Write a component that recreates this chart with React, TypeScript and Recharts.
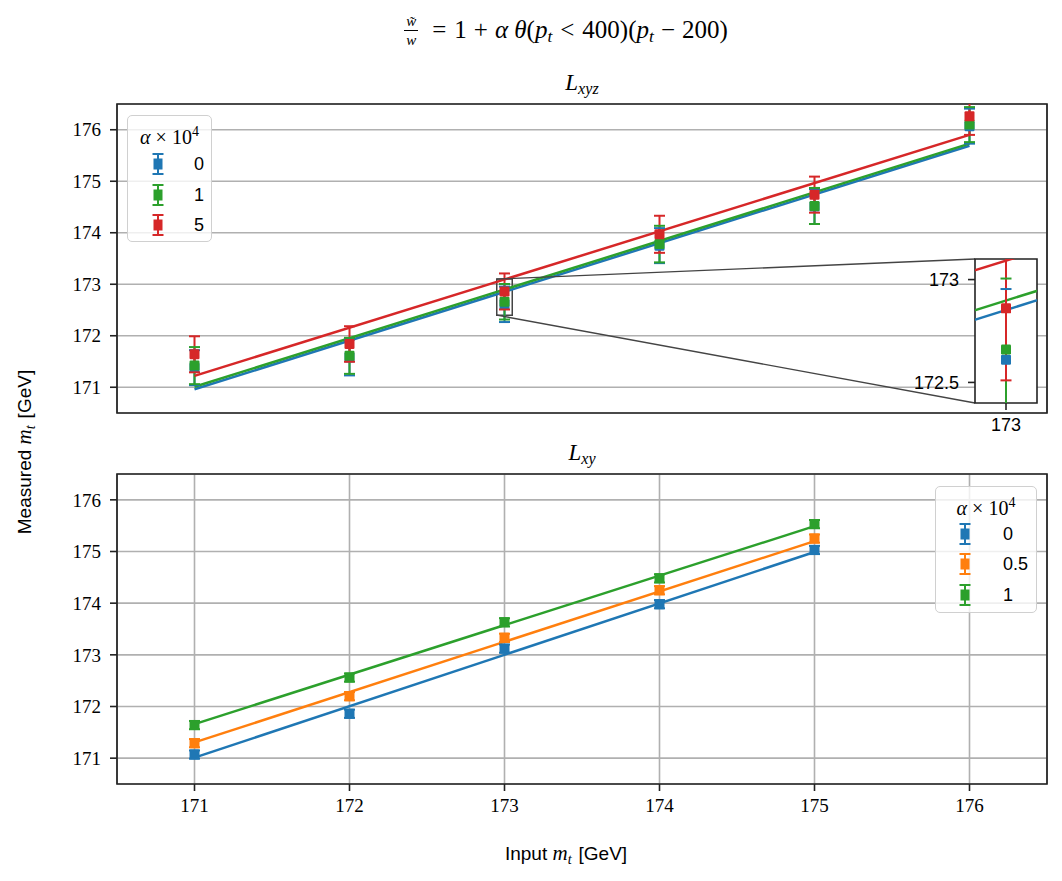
import React from 'react';
import {
  ComposedChart,
  Scatter,
  Line,
  XAxis,
  YAxis,
  CartesianGrid,
  ReferenceArea,
  ReferenceLine,
} from 'recharts';

// ---------------- data ----------------
const xyzInputMass = [171, 172, 173, 174, 175, 176];
const xyzAlpha0 = [171.38, 171.58, 172.61, 173.75, 174.51, 176.07];
const xyzAlpha0Err = [0.34, 0.35, 0.344, 0.34, 0.34, 0.34];
const xyzAlpha1 = [171.42, 171.61, 172.66, 173.78, 174.52, 176.1];
const xyzAlpha1Err = [0.36, 0.35, 0.345, 0.355, 0.35, 0.34];
const xyzAlpha5 = [171.64, 171.84, 172.86, 173.97, 174.74, 176.26];
const xyzAlpha5Err = [0.35, 0.345, 0.35, 0.36, 0.35, 0.36];
const xyzFitX = [171, 176];
const xyzFit0 = [170.96, 175.69];
const xyzFit1 = [171.01, 175.73];
const xyzFit5 = [171.22, 175.9];
const xyzLegendLabels = ['0', '1', '5'];

const xyInputMass = [171, 172, 173, 174, 175];
const xyAlpha0 = [171.07, 171.86, 173.12, 173.98, 175.03];
const xyAlpha0Err = [0.08, 0.08, 0.08, 0.08, 0.08];
const xyAlpha05 = [171.29, 172.2, 173.33, 174.25, 175.25];
const xyAlpha05Err = [0.08, 0.08, 0.08, 0.08, 0.08];
const xyAlpha1 = [171.64, 172.56, 173.63, 174.48, 175.53];
const xyAlpha1Err = [0.08, 0.08, 0.08, 0.08, 0.08];
const xyFitX = [171, 175];
const xyFit0 = [171.01, 174.99];
const xyFit05 = [171.305, 175.2];
const xyFit1 = [171.66, 175.49];
const xyLegendLabels = ['0', '0.5', '1'];

const axisTicks = [171, 172, 173, 174, 175, 176];
const axisDomain: [number, number] = [170.5, 176.5];
const insetXDomain: [number, number] = [172.95, 173.05];
const insetYDomain: [number, number] = [172.4, 173.1];
const insetXTicks = [173];
const insetYTicks = [172.5, 173];

// ---------------- styles ----------------
const BLUE = '#1f77b4';
const ORANGE = '#ff7f0e';
const GREEN = '#2ca02c';
const RED = '#d62728';
const GRID = '#b0b0b0';
const SPINE = '#222';
const SERIF = '"Liberation Serif", "DejaVu Serif", serif';
const SANS = '"Liberation Sans", "DejaVu Sans", sans-serif';

// plot areas (pixels on page)
const TOP = { left: 117, top: 104, width: 930, height: 309 };
const BOT = { left: 117, top: 474, width: 930, height: 310 };
const INSET = { left: 975, top: 259, width: 62, height: 144 };

const topXData = (px: number) =>
  axisDomain[0] + ((px - TOP.left) / TOP.width) * (axisDomain[1] - axisDomain[0]);
const topYData = (py: number) =>
  axisDomain[1] - ((py - TOP.top) / TOP.height) * (axisDomain[1] - axisDomain[0]);

type Pt = { x: number; y: number | null; e: number };

const pts = (xs: number[], ys: number[], es?: number[]): Pt[] =>
  xs.map((x, i) => ({ x, y: ys[i], e: es ? es[i] : 0 }));

// error bar segments: low, high, break
const errSegments = (points: Pt[]): Pt[] =>
  points.flatMap((p) => [
    { x: p.x, y: (p.y as number) - p.e, e: 0 },
    { x: p.x, y: (p.y as number) + p.e, e: 0 },
    { x: p.x, y: null, e: 0 },
  ]);

const squareShape = (color: string, size: number) => (props: any) => {
  const { cx, cy } = props;
  if (cx == null || cy == null) return <g />;
  return (
    <rect
      x={cx - size / 2}
      y={cy - size / 2}
      width={size}
      height={size}
      rx={1.2}
      fill={color}
    />
  );
};

const capDot = (color: string) => (props: any) => {
  const { cx, cy, index } = props;
  if (cx == null || cy == null || Number.isNaN(cy)) return <g key={`cap-${index}`} />;
  return (
    <line
      key={`cap-${index}`}
      x1={cx - 5.5}
      x2={cx + 5.5}
      y1={cy}
      y2={cy}
      stroke={color}
      strokeWidth={2}
    />
  );
};

type Series = {
  name: string;
  color: string;
  points: Pt[];
  fit: Pt[];
};

const xyzSeries: Series[] = [
  { name: xyzLegendLabels[0], color: BLUE, points: pts(xyzInputMass, xyzAlpha0, xyzAlpha0Err), fit: pts(xyzFitX, xyzFit0) },
  { name: xyzLegendLabels[1], color: GREEN, points: pts(xyzInputMass, xyzAlpha1, xyzAlpha1Err), fit: pts(xyzFitX, xyzFit1) },
  { name: xyzLegendLabels[2], color: RED, points: pts(xyzInputMass, xyzAlpha5, xyzAlpha5Err), fit: pts(xyzFitX, xyzFit5) },
];

const xySeries: Series[] = [
  { name: xyLegendLabels[0], color: BLUE, points: pts(xyInputMass, xyAlpha0, xyAlpha0Err), fit: pts(xyFitX, xyFit0) },
  { name: xyLegendLabels[1], color: ORANGE, points: pts(xyInputMass, xyAlpha05, xyAlpha05Err), fit: pts(xyFitX, xyFit05) },
  { name: xyLegendLabels[2], color: GREEN, points: pts(xyInputMass, xyAlpha1, xyAlpha1Err), fit: pts(xyFitX, xyFit1) },
];

const renderSeries = (series: Series[], prefix: string) =>
  series.flatMap((s, i) => [
    <Line
      key={`${prefix}-e-${i}`}
      data={errSegments(s.points)}
      dataKey="y"
      type="linear"
      stroke={s.color}
      strokeWidth={2}
      dot={capDot(s.color)}
      activeDot={false}
      connectNulls={false}
      isAnimationActive={false}
    />,
    <Scatter
      key={`${prefix}-s-${i}`}
      data={s.points}
      dataKey="y"
      shape={squareShape(s.color, 10)}
      isAnimationActive={false}
    />,
    <Line
      key={`${prefix}-l-${i}`}
      data={s.fit}
      dataKey="y"
      type="linear"
      stroke={s.color}
      strokeWidth={2.5}
      dot={false}
      activeDot={false}
      isAnimationActive={false}
    />,
  ]);

const yTickStyle = { fontFamily: SERIF, fontSize: 19, fill: '#000' };

const Sub = ({ children }: { children: React.ReactNode }) => (
  <span style={{ fontSize: '0.7em', verticalAlign: '-0.25em', fontStyle: 'italic' }}>{children}</span>
);

const LegendBox = ({
  series,
  left,
  top,
  width,
  rowYs,
  markerX,
  labelX,
}: {
  series: Series[];
  left: number;
  top: number;
  width: number;
  rowYs: number[];
  markerX: number;
  labelX: number;
}) => (
  <div
    style={{
      position: 'absolute',
      left,
      top,
      width,
      height: 127,
      boxSizing: 'border-box',
      background: 'rgba(255,255,255,0.8)',
      border: '1.5px solid #d0d0d0',
      borderRadius: 5,
    }}
  >
    <div
      style={{
        position: 'absolute',
        left: 0,
        width: '100%',
        top: 9,
        textAlign: 'center',
        fontFamily: SERIF,
        fontSize: 20,
        lineHeight: '24px',
      }}
    >
      <i>α</i> × 10<sup style={{ fontSize: '0.7em', verticalAlign: '0.6em', lineHeight: 0 }}>4</sup>
    </div>
    {series.map((s, i) => (
      <React.Fragment key={i}>
        <svg
          width={20}
          height={24}
          style={{ position: 'absolute', left: markerX - 10, top: rowYs[i] - 12 }}
        >
          <line x1={10} x2={10} y1={2} y2={22} stroke={s.color} strokeWidth={2} />
          <line x1={4.5} x2={15.5} y1={2} y2={2} stroke={s.color} strokeWidth={2} />
          <line x1={4.5} x2={15.5} y1={22} y2={22} stroke={s.color} strokeWidth={2} />
          <rect x={5.5} y={6.5} width={9} height={11} fill={s.color} />
        </svg>
        <div
          style={{
            position: 'absolute',
            left: labelX,
            top: rowYs[i] - 12,
            fontFamily: SANS,
            fontSize: 18,
            lineHeight: '24px',
          }}
        >
          {s.name}
        </div>
      </React.Fragment>
    ))}
  </div>
);

const INSET_YAXIS_W = 60;
const INSET_XAXIS_H = 35;

export default function App() {
  const insetCorners = {
    x0: topXData(INSET.left),
    y1: topYData(INSET.top),
    y0: topYData(INSET.top + INSET.height),
  };

  return (
    <div
      style={{
        position: 'absolute',
        left: 0,
        top: 0,
        width: 1062,
        height: 881,
        background: '#fff',
        overflow: 'hidden',
      }}
    >
      {/* main title */}
      <div
        style={{
          position: 'absolute',
          left: 266,
          width: 600,
          top: 11,
          textAlign: 'center',
          fontFamily: SERIF,
          fontSize: 25,
          lineHeight: '38px',
          whiteSpace: 'nowrap',
        }}
      >
        <span
          style={{
            display: 'inline-flex',
            flexDirection: 'column',
            alignItems: 'center',
            verticalAlign: 'middle',
            fontSize: 15,
            fontStyle: 'italic',
            marginRight: 6,
            position: 'relative',
            top: -2,
          }}
        >
          <span style={{ display: 'block', lineHeight: '18px', height: 18 }}>w̃</span>
          <span
            style={{
              display: 'block',
              borderTop: '1.2px solid #000',
              width: 14,
              textAlign: 'center',
              lineHeight: '18px',
              height: 18,
            }}
          >
            w
          </span>
        </span>
        <span style={{ margin: '0 8px' }}>=</span>1<span style={{ margin: '0 7px' }}>+</span>
        <i>α</i> <i>θ</i>(<i>p</i>
        <Sub>t</Sub>
        <span style={{ margin: '0 8px' }}>&lt;</span>400)(<i>p</i>
        <Sub>t</Sub>
        <span style={{ margin: '0 7px' }}>−</span>200)
      </div>

      {/* subplot titles */}
      <div
        style={{
          position: 'absolute',
          left: TOP.left,
          width: TOP.width,
          top: 70,
          textAlign: 'center',
          fontFamily: SERIF,
          fontSize: 23,
          lineHeight: '26px',
        }}
      >
        <i>L</i>
        <Sub>xyz</Sub>
      </div>
      <div
        style={{
          position: 'absolute',
          left: BOT.left,
          width: BOT.width,
          top: 440,
          textAlign: 'center',
          fontFamily: SERIF,
          fontSize: 23,
          lineHeight: '26px',
        }}
      >
        <i>L</i>
        <Sub>xy</Sub>
      </div>

      {/* y label */}
      <div
        style={{
          position: 'absolute',
          left: 24 - 150,
          width: 300,
          top: 452 - 13,
          height: 26,
          lineHeight: '26px',
          textAlign: 'center',
          transform: 'rotate(-90deg)',
          fontFamily: SANS,
          fontSize: 19,
          whiteSpace: 'nowrap',
        }}
      >
        Measured <i style={{ fontFamily: SERIF, fontSize: 21 }}>m</i>
        <span style={{ fontFamily: SERIF, fontSize: 14, fontStyle: 'italic', verticalAlign: '-0.25em' }}>t</span>
        <span style={{ marginLeft: 7 }}>[GeV]</span>
      </div>

      {/* x label */}
      <div
        style={{
          position: 'absolute',
          left: 566 - 150,
          width: 300,
          top: 840,
          height: 26,
          lineHeight: '26px',
          textAlign: 'center',
          fontFamily: SANS,
          fontSize: 19,
          whiteSpace: 'nowrap',
        }}
      >
        Input <i style={{ fontFamily: SERIF, fontSize: 21 }}>m</i>
        <span style={{ fontFamily: SERIF, fontSize: 14, fontStyle: 'italic', verticalAlign: '-0.25em' }}>t</span>
        <span style={{ marginLeft: 7 }}>[GeV]</span>
      </div>

      {/* top panel */}
      <div style={{ position: 'absolute', left: 0, top: 0 }}>
        <ComposedChart
          width={1062}
          height={440}
          margin={{ top: TOP.top, right: 1062 - TOP.left - TOP.width, bottom: 440 - TOP.top - TOP.height - 20, left: TOP.left - 55 }}
        >
          <CartesianGrid stroke={GRID} strokeWidth={1.6} />
          <XAxis
            type="number"
            dataKey="x"
            domain={axisDomain}
            ticks={axisTicks}
            allowDataOverflow
            tick={false}
            tickLine={false}
            axisLine={false}
            height={20}
          />
          <YAxis
            type="number"
            dataKey="y"
            domain={axisDomain}
            ticks={axisTicks}
            allowDataOverflow
            width={55}
            tick={yTickStyle}
            tickSize={7}
            tickMargin={9}
            tickLine={{ stroke: SPINE, strokeWidth: 1.6 }}
            axisLine={false}
          />
          {renderSeries(xyzSeries, 'xyz')}
          <ReferenceArea
            x1={insetXDomain[0]}
            x2={insetXDomain[1]}
            y1={insetYDomain[0]}
            y2={insetYDomain[1]}
            fill="none"
            fillOpacity={0}
            stroke="#444"
            strokeWidth={1.5}
          />
          <ReferenceLine
            segment={[
              { x: insetXDomain[0], y: insetYDomain[1] },
              { x: insetCorners.x0, y: insetCorners.y1 },
            ]}
            stroke="#444"
            strokeWidth={1.4}
            ifOverflow="visible"
          />
          <ReferenceLine
            segment={[
              { x: insetXDomain[0], y: insetYDomain[0] },
              { x: insetCorners.x0, y: insetCorners.y0 },
            ]}
            stroke="#444"
            strokeWidth={1.4}
            ifOverflow="visible"
          />
          <ReferenceArea
            x1={axisDomain[0]}
            x2={axisDomain[1]}
            y1={axisDomain[0]}
            y2={axisDomain[1]}
            fill="none"
            fillOpacity={0}
            stroke={SPINE}
            strokeWidth={1.7}
          />
        </ComposedChart>
      </div>

      {/* inset */}
      <div
        style={{
          position: 'absolute',
          left: INSET.left - INSET_YAXIS_W,
          top: INSET.top - 2,
        }}
      >
        <ComposedChart
          width={INSET_YAXIS_W + INSET.width + 3}
          height={2 + INSET.height + INSET_XAXIS_H}
          margin={{ top: 2, right: 3, bottom: 0, left: 0 }}
        >
          <CartesianGrid fill="#fff" horizontal={false} vertical={false} />
          <XAxis
            type="number"
            dataKey="x"
            domain={insetXDomain}
            ticks={insetXTicks}
            allowDataOverflow
            height={INSET_XAXIS_H}
            tick={{ fontFamily: SANS, fontSize: 18, fill: '#000' }}
            tickSize={7}
            tickMargin={8}
            tickLine={{ stroke: SPINE, strokeWidth: 1.6 }}
            axisLine={false}
          />
          <YAxis
            type="number"
            dataKey="y"
            domain={insetYDomain}
            ticks={insetYTicks}
            allowDataOverflow
            width={INSET_YAXIS_W}
            tick={{ fontFamily: SANS, fontSize: 18, fill: '#000' }}
            tickSize={7}
            tickMargin={9}
            tickLine={{ stroke: SPINE, strokeWidth: 1.6 }}
            axisLine={false}
          />
          {renderSeries(xyzSeries, 'inset')}
          <ReferenceArea
            x1={insetXDomain[0]}
            x2={insetXDomain[1]}
            y1={insetYDomain[0]}
            y2={insetYDomain[1]}
            fill="none"
            fillOpacity={0}
            stroke={SPINE}
            strokeWidth={1.6}
          />
        </ComposedChart>
      </div>

      {/* bottom panel */}
      <div style={{ position: 'absolute', left: 0, top: 440 }}>
        <ComposedChart
          width={1062}
          height={441}
          margin={{ top: BOT.top - 440, right: 1062 - BOT.left - BOT.width, bottom: 441 - (BOT.top - 440) - BOT.height - 30, left: BOT.left - 55 }}
        >
          <CartesianGrid stroke={GRID} strokeWidth={1.6} />
          <XAxis
            type="number"
            dataKey="x"
            domain={axisDomain}
            ticks={axisTicks}
            allowDataOverflow
            height={30}
            tick={yTickStyle}
            tickSize={7}
            tickMargin={8}
            tickLine={{ stroke: SPINE, strokeWidth: 1.6 }}
            axisLine={false}
          />
          <YAxis
            type="number"
            dataKey="y"
            domain={axisDomain}
            ticks={axisTicks}
            allowDataOverflow
            width={55}
            tick={yTickStyle}
            tickSize={7}
            tickMargin={9}
            tickLine={{ stroke: SPINE, strokeWidth: 1.6 }}
            axisLine={false}
          />
          {renderSeries(xySeries, 'xy')}
          <ReferenceArea
            x1={axisDomain[0]}
            x2={axisDomain[1]}
            y1={axisDomain[0]}
            y2={axisDomain[1]}
            fill="none"
            fillOpacity={0}
            stroke={SPINE}
            strokeWidth={1.7}
          />
        </ComposedChart>
      </div>

      {/* legends */}
      <LegendBox series={xyzSeries} left={127} top={115} width={85} rowYs={[48, 79, 109]} markerX={30} labelX={66} />
      <LegendBox series={xySeries} left={935} top={486} width={102} rowYs={[47, 77, 108]} markerX={29} labelX={67} />
    </div>
  );
}
